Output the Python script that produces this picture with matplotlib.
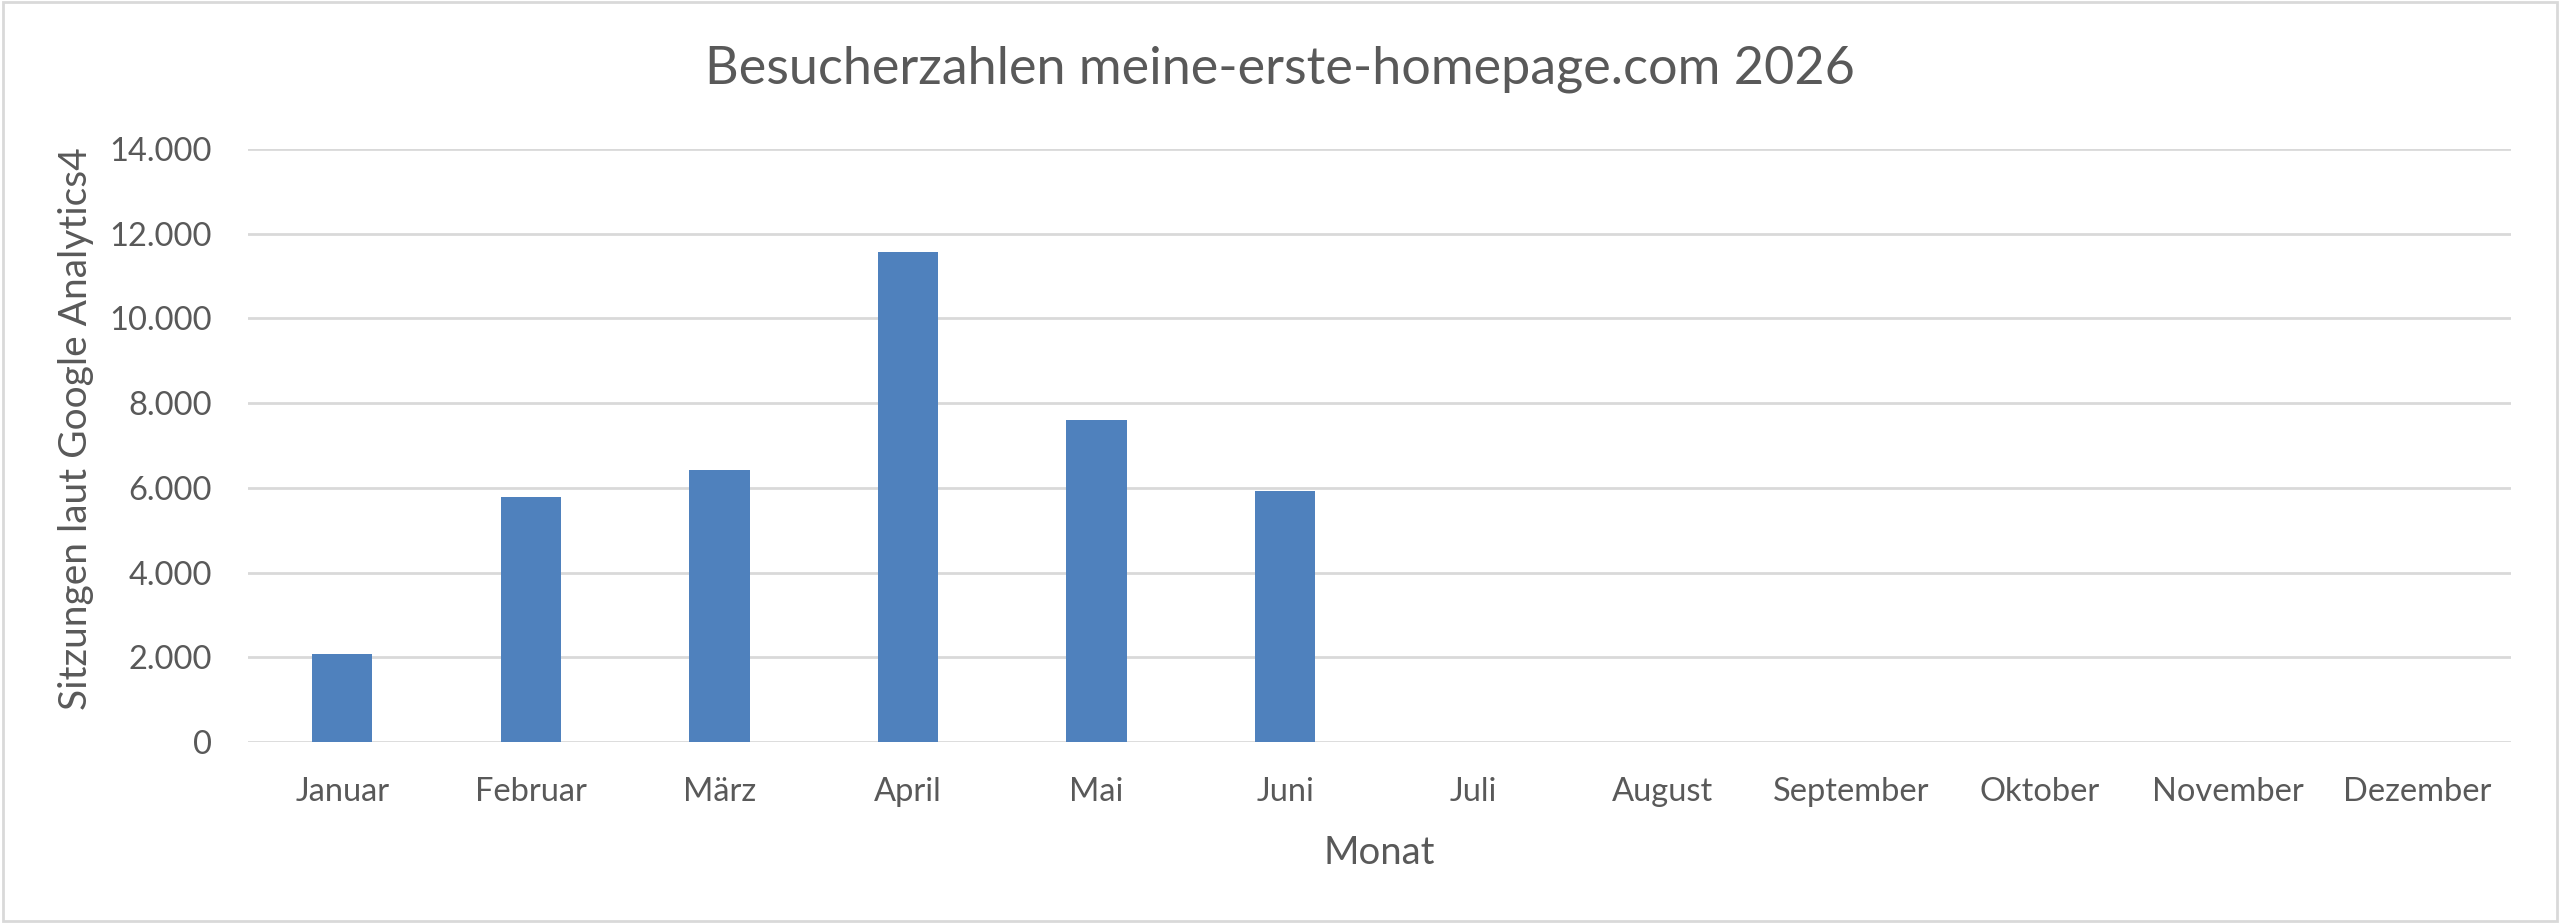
import matplotlib
matplotlib.use('Agg')
import matplotlib.pyplot as plt
from matplotlib.patches import Rectangle
from matplotlib.ticker import FuncFormatter

months = ['Januar', 'Februar', 'März', 'April', 'Mai', 'Juni',
          'Juli', 'August', 'September', 'Oktober', 'November', 'Dezember']
sessions = [2070, 5790, 6430, 11580, 7600, 5925, 0, 0, 0, 0, 0, 0]
y_ticks = [0, 2000, 4000, 6000, 8000, 10000, 12000, 14000]

text_color = '#595959'
grid_color = '#D9D9D9'
bar_color = '#4F81BD'

plt.rcParams['font.family'] = ['Lato', 'DejaVu Sans']

fig = plt.figure(figsize=(25.6, 9.23), dpi=100)
ax = fig.add_axes([248 / 2560, 1 - 742 / 923, (2511 - 248) / 2560, (742 - 149) / 923])

ax.bar(range(len(months)), sessions, width=0.32, color=bar_color, zorder=3)

ax.set_xlim(-0.5, len(months) - 0.5)
ax.set_ylim(0, 14000)
ax.set_yticks(y_ticks)
ax.yaxis.set_major_formatter(FuncFormatter(lambda v, p: f'{int(v):,}'.replace(',', '.')))
ax.set_xticks(range(len(months)))
ax.set_xticklabels(months)

ax.grid(axis='y', color=grid_color, linewidth=2, zorder=0)
for s in ax.spines.values():
    s.set_visible(False)
ax.tick_params(axis='both', length=0, labelsize=23.5, labelcolor=text_color)
ax.tick_params(axis='y', pad=26)
ax.tick_params(axis='x', pad=25)

ax.set_xlabel('Monat', fontsize=27.5, color=text_color, labelpad=20)
ax.set_ylabel('Sitzungen laut Google Analytics4', fontsize=28, color=text_color, labelpad=11)
ax.yaxis.label.set_y(0.528)

fig.text(0.5, 1 - 69 / 923, 'Besucherzahlen meine-erste-homepage.com 2026',
         ha='center', va='center', fontsize=37.5, color=text_color)

fig.patches.append(Rectangle((0.001, 0.002), 0.998, 0.996, transform=fig.transFigure,
                             fill=False, edgecolor=grid_color, linewidth=2))

fig.savefig('out.png', dpi=100, facecolor='white')
